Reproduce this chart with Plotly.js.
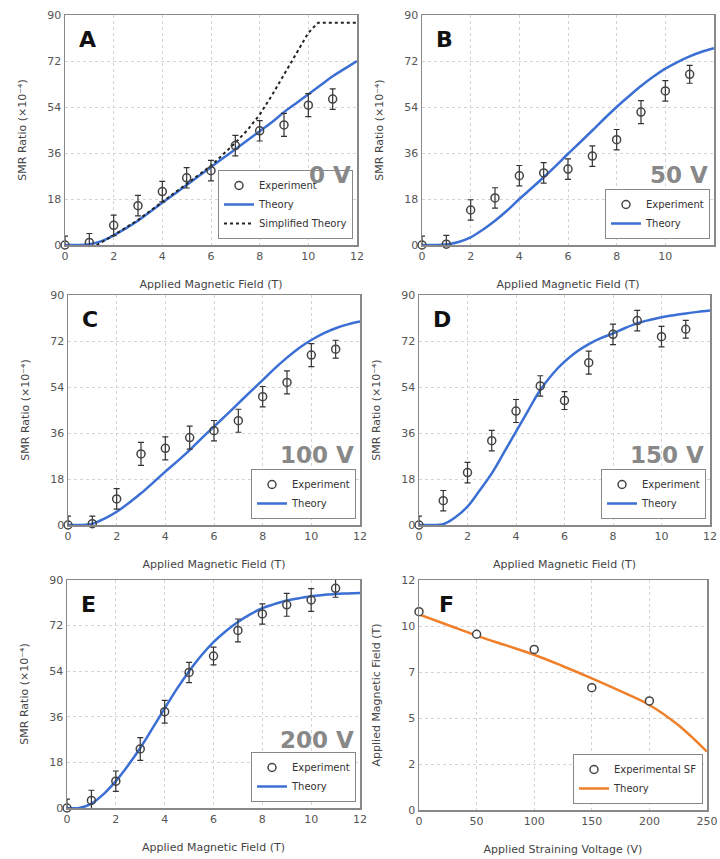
<!DOCTYPE html>
<html><head><meta charset="utf-8">
<script src="https://cdn.plot.ly/plotly-3.0.1.min.js"></script>
<style>html,body{margin:0;padding:0;background:#fff}#chart{width:720px;height:859px}</style>
</head><body><div id="chart"></div>
<script>
// ---- Data ----
const fieldX = [0,1,2,3,4,5,6,7,8,9,10,11];
const expA = [0,1,7.7,15.4,20.9,26.3,29.1,38.9,44.7,47,54.7,57.1];
const errA = [3.5,3.5,4,4,4,4,4,4,4,4.5,4.5,4];
const expB = [0,0.3,13.7,18.4,27.1,28.2,29.7,34.8,41.2,52,60.3,66.8];
const errB = [3.5,3.5,4,4,4,4,4,4,4,4.5,4,3.5];
const expC = [0,0.5,10.2,27.8,30,34.2,36.9,40.8,50.2,55.8,66.5,68.8];
const errC = [3.5,3,4,4.5,4.5,4.5,4,4.5,4,4.5,4.5,3.5];
const expD = [0,9.5,20.5,33,44.6,54.4,48.7,63.5,74.6,80,73.7,76.6];
const errD = [3.5,4,4,4,4.5,4,3.5,4.5,4,4,4,3.5];
const expE = [0,3,10.6,23.3,38,53.5,60,70.1,76.6,80.2,82.1,86.7];
const errE = [3.5,4,4,4.5,4.5,4,3.5,4.5,4,4.5,4.5,3.5];

const theoryX = [0,0.5,1,1.5,2,2.5,3,3.5,4,4.5,5,5.5,6,6.5,7,7.5,8,8.5,9,9.5,10,10.5,11,11.5,12];
const theoryA = [0,0,0.3,1.5,3.8,6.5,9.5,13,16.5,20,23.5,27,30.5,34,37.5,41,44.5,48,52,55.5,59,62.5,66,69,72];
const theoryB = [0,0,0.2,1.2,3,6,9.5,13.5,18,22.2,26.5,31,35.7,40.2,44.8,49.5,54,58.2,62.2,65.8,69,71.6,73.8,75.6,77];
const theoryC = [0,0,0.5,2.5,5.2,8.6,12.4,16.6,20.9,25,29.3,34,38.5,43,47.6,52.2,56.7,61.3,65.5,69.3,72.4,75,77,78.5,79.6];
const theoryD = [0,0,0.3,3,7.2,13.5,20.2,28.3,36.5,44.8,52.8,59,63.9,67.8,70.8,73.1,75,77.1,78.9,80.2,81.3,82.1,82.8,83.4,83.9];
const theoryE = [0,0,1.7,5.5,10.6,16.8,23.7,31.4,39.3,47,54,60.2,65.5,69.8,73.4,76.4,78.9,80.5,81.9,82.8,83.6,84.1,84.5,84.7,84.9];

const simpX = [1.3,2,3,4,5,6,6.5,7,7.5,8,8.5,9,9.5,10,10.4,12];
const simpA = [0,3.8,9.8,16.8,24,31,35.5,40,45,51,58.5,66.5,74.5,83,87,87];

const voltX = [0,50,100,150,200];
const voltSF = [10.35,9.17,8.38,6.38,5.69];
const voltTheoryX = [0,25,50,75,100,125,150,175,200,225,250];
const voltTheory = [10.2,9.65,9.1,8.6,8.1,7.5,6.87,6.2,5.48,4.43,3.04];

const fieldTicks = [0,2,4,6,8,10,12];
const smrTicks = [0,18,36,54,72,90];
const voltTicks = [0,50,100,150,200,250];
const sfTickVals = [0,2.4,4.8,7.2,9.6,12];
const sfTickText = ['0','2','5','7','10','12'];

const panelLetters = ['A','B','C','D','E','F'];
const voltageLabels = ['0 V','50 V','100 V','150 V','200 V'];

// ---- Styling / layout ----
const W = 720, H = 859;
const px = v => v / W, py = v => 1 - v / H;
const panels = [
  {x0:65, x1:357, y0:15, y1:245},
  {x0:422, x1:714, y0:15, y1:245},
  {x0:68, x1:360, y0:295, y1:525},
  {x0:419, x1:710, y0:295, y1:525},
  {x0:67, x1:360, y0:580, y1:808},
  {x0:419, x1:707, y0:580, y1:810}
];
const blue = '#3b6fd4', orange = '#f07f2a';
const font = 'DejaVu Sans, Arial, sans-serif';
const expSeries = [expA, expB, expC, expD, expE];
const errSeries = [errA, errB, errC, errD, errE];
const theorySeries = [theoryA, theoryB, theoryC, theoryD, theoryE];

const traces = [];
for (let i = 0; i < 5; i++) {
  const ax = i === 0 ? '' : String(i + 1);
  const lg = i === 0 ? 'legend' : 'legend' + (i + 1);
  traces.push({
    x: theoryX, y: theorySeries[i], type: 'scatter', mode: 'lines', name: 'Theory',
    xaxis: 'x' + ax, yaxis: 'y' + ax, legend: lg, legendrank: 2,
    line: {color: blue, width: 2.5, shape: 'spline'}
  });
  if (i === 0) {
    traces.push({
      x: simpX, y: simpA, type: 'scatter', mode: 'lines', name: 'Simplified Theory',
      xaxis: 'x', yaxis: 'y', legend: 'legend', legendrank: 3,
      line: {color: '#222', width: 2, dash: 'dot'}
    });
  }
  traces.push({
    x: fieldX, y: expSeries[i], type: 'scatter', mode: 'markers', name: 'Experiment',
    xaxis: 'x' + ax, yaxis: 'y' + ax, legend: lg, legendrank: 1, cliponaxis: false,
    marker: {symbol: 'circle-open', size: 8, color: '#444', line: {width: 1.5, color: '#444'}},
    error_y: {type: 'data', array: errSeries[i], visible: true, color: '#333', thickness: 1.2, width: 3}
  });
}
traces.push({
  x: voltTheoryX, y: voltTheory, type: 'scatter', mode: 'lines', name: 'Theory',
  xaxis: 'x6', yaxis: 'y6', legend: 'legend6', legendrank: 2,
  line: {color: orange, width: 2.5, shape: 'spline'}
});
traces.push({
  x: voltX, y: voltSF, type: 'scatter', mode: 'markers', name: 'Experimental SF',
  xaxis: 'x6', yaxis: 'y6', legend: 'legend6', legendrank: 1, cliponaxis: false,
  marker: {symbol: 'circle', size: 8, color: '#fff', line: {width: 1.5, color: '#444'}}
});

const layout = {
  width: W, height: H, margin: {l: 0, r: 0, t: 0, b: 0},
  paper_bgcolor: '#fff', plot_bgcolor: '#fff',
  font: {family: font, size: 11, color: '#555'},
  showlegend: true, annotations: []
};
const axBase = {
  showline: true, mirror: true, linecolor: '#888', linewidth: 1.5,
  showgrid: true, gridcolor: '#d4d4d4', griddash: 'dot', gridwidth: 1,
  zeroline: false, ticks: '', tickfont: {size: 11, color: '#555', family: font},
  fixedrange: true
};
panels.forEach((p, i) => {
  const n = i === 0 ? '' : String(i + 1);
  const isF = i === 5;
  layout['xaxis' + n] = Object.assign({}, axBase, {
    domain: [px(p.x0), px(p.x1)], anchor: 'y' + n,
    range: isF ? [0, 250] : [0, 12],
    tickvals: isF ? voltTicks : fieldTicks,
    title: {text: isF ? 'Applied Straining Voltage (V)' : 'Applied Magnetic Field (T)',
            font: {size: 11, color: '#444'}, standoff: 18}
  });
  layout['yaxis' + n] = Object.assign({}, axBase, {
    domain: [py(p.y1), py(p.y0)], anchor: 'x' + n,
    range: isF ? [0, 12] : [0, 90],
    tickvals: isF ? sfTickVals : smrTicks,
    ticktext: isF ? sfTickText : smrTicks.map(String),
    title: {text: isF ? 'Applied Magnetic Field (T)' : 'SMR Ratio (×10⁻⁴)',
            font: {size: 11, color: '#444'}, standoff: 18}
  });
  layout.annotations.push({
    text: '<b>' + panelLetters[i] + '</b>', xref: 'paper', yref: 'paper',
    x: px(p.x0 + (isF ? 18 : 12)), y: py(p.y0 + 10), xanchor: 'left', yanchor: 'top',
    showarrow: false, font: {size: 22, color: '#111', family: font}
  });
  if (!isF) {
    layout.annotations.push({
      text: '<b>' + voltageLabels[i] + '</b>', xref: 'paper', yref: 'paper',
      x: px(p.x1 - 4), y: py(p.y0 + 160), xanchor: 'right', yanchor: 'middle',
      showarrow: false, font: {size: 23, color: '#888', family: font}
    });
  }
  const lg = i === 0 ? 'legend' : 'legend' + (i + 1);
  layout[lg] = {
    x: px(p.x1 - 4), y: py(p.y1 - 6), xanchor: 'right', yanchor: 'bottom',
    xref: 'paper', yref: 'paper',
    bgcolor: '#fff', bordercolor: '#888', borderwidth: 1,
    font: {size: 10, color: '#333', family: font},
    tracegroupgap: 0, itemwidth: 30
  };
});

Plotly.newPlot('chart', traces, layout, {staticPlot: true});
</script></body></html>
